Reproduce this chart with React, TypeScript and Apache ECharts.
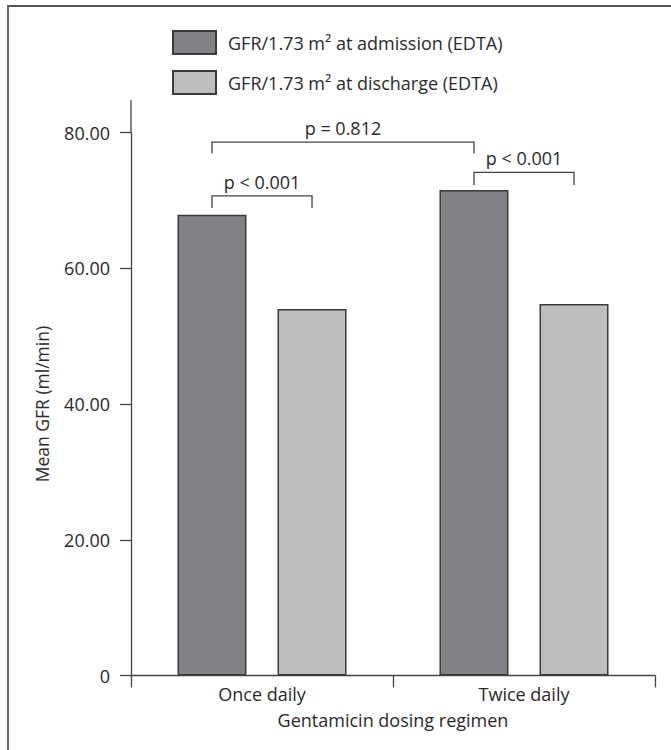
import React, { useEffect, useRef } from "react";
import * as echarts from "echarts";

const categories = ["Once daily", "Twice daily"];
const admissionGFR = [67.9, 71.55];
const dischargeGFR = [54.0, 54.75];
const seriesNames = ["GFR/1.73 m² at admission (EDTA)", "GFR/1.73 m² at discharge (EDTA)"];
const yTickValues = [0, 20, 40, 60, 80];
const xAxisTitle = "Gentamicin dosing regimen";
const yAxisTitle = "Mean GFR (ml/min)";

// brackets: [seriesIndex, categoryIndex] endpoints, bracket top value, leg bottom value, label
const bracketFrom = [[0, 0], [0, 0], [0, 1]];
const bracketTo = [[1, 0], [0, 1], [1, 1]];
const bracketTop = [70.7, 78.6, 74.15];
const bracketLeg = [68.9, 76.95, 72.3];
const bracketLabels = ["p < 0.001", "p = 0.812", "p < 0.001"];

const FONT = '"Open Sans", "Noto Sans", sans-serif';
const TXT = "#2a2a2a";
const LINE = "#444444";

export default function App() {
  const ref = useRef<HTMLDivElement>(null);

  useEffect(() => {
    document.body.style.margin = "0";
    const chart = echarts.init(ref.current!, null, { renderer: "svg" });
    const barStyle = (color: string) => ({ color, borderColor: "#3a3a3a", borderWidth: 1.5 });
    chart.setOption({
      animation: false,
      backgroundColor: "#ffffff",
      textStyle: { fontFamily: FONT, color: TXT },
      legend: {
        orient: "vertical",
        left: 172,
        top: 30,
        padding: 0,
        itemWidth: 43,
        itemHeight: 23,
        itemGap: 15,
        icon: "rect",
        textStyle: { fontFamily: FONT, fontSize: 18, color: TXT, lineHeight: 23, padding: [0, 0, 0, 7] },
        data: seriesNames,
      },
      grid: { left: 131, right: 16, top: 132.7, bottom: 74.5, containLabel: false },
      xAxis: {
        type: "category",
        data: categories,
        axisLine: { lineStyle: { color: LINE, width: 1.3 } },
        axisTick: { show: true, length: 12, lineStyle: { color: LINE, width: 1.3 } },
        axisLabel: { fontFamily: FONT, fontSize: 18, color: TXT, margin: 9 },
        name: xAxisTitle,
        nameLocation: "middle",
        nameGap: 35,
        nameTextStyle: { fontFamily: FONT, fontSize: 18, color: TXT },
      },
      yAxis: {
        type: "value",
        min: 0,
        max: 80,
        interval: 20,
        splitLine: { show: false },
        axisLine: { show: true, lineStyle: { color: LINE, width: 1.3 } },
        axisTick: { show: true, length: 11, lineStyle: { color: LINE, width: 1.3 } },
        axisLabel: {
          fontFamily: FONT,
          fontSize: 18,
          color: TXT,
          margin: 21,
          customValues: yTickValues,
          formatter: (v: number) => (v === 0 ? "0" : v.toFixed(2)),
        },
        name: yAxisTitle,
        nameLocation: "middle",
        nameGap: 80,
        nameTextStyle: { fontFamily: FONT, fontSize: 17.5, color: TXT },
      },
      series: [
        {
          name: seriesNames[0],
          type: "bar",
          data: admissionGFR,
          barWidth: 69,
          barGap: "45%",
          itemStyle: barStyle("#808285"),
        },
        {
          name: seriesNames[1],
          type: "bar",
          data: dischargeGFR,
          barWidth: 69,
          barGap: "45%",
          itemStyle: barStyle("#bcbec0"),
        },
      ],
    });

    // annotations positioned via library layout
    const model: any = (chart as any).getModel();
    const barCenter = (s: number, c: number) => {
      const lay = model.getSeriesByIndex(s).getData().getItemLayout(c);
      return lay.x + lay.width / 2;
    };
    const yPix = (v: number) => chart.convertToPixel({ yAxisIndex: 0 } as any, v) as number;

    const graphics: any[] = [
      {
        type: "rect",
        shape: { x: 8, y: 6, width: 720, height: 800 },
        style: { fill: "none", stroke: "#555555", lineWidth: 1.8 },
        silent: true,
      },
      {
        type: "line",
        shape: { x1: 131, y1: 100, x2: 131, y2: yPix(80) },
        style: { stroke: LINE, lineWidth: 1.3 },
        silent: true,
      },
    ];
    bracketLabels.forEach((label, i) => {
      const x1 = barCenter(bracketFrom[i][0], bracketFrom[i][1]);
      const x2 = barCenter(bracketTo[i][0], bracketTo[i][1]);
      const yt = yPix(bracketTop[i]);
      const yl = yPix(bracketLeg[i]);
      graphics.push({
        type: "polyline",
        shape: { points: [[x1, yl], [x1, yt], [x2, yt], [x2, yl]] },
        style: { stroke: LINE, lineWidth: 1.3, fill: "none" },
        silent: true,
      });
      graphics.push({
        type: "text",
        x: (x1 + x2) / 2,
        y: yt - 14,
        style: {
          text: label,
          fontFamily: FONT,
          fontSize: 18,
          fill: TXT,
          align: "center",
          verticalAlign: "middle",
        },
        silent: true,
      });
    });
    chart.setOption({ graphic: graphics });

    return () => chart.dispose();
  }, []);

  return (
    <div
      ref={ref}
      style={{ position: "absolute", left: 0, top: 0, width: 671, height: 750 }}
    />
  );
}
